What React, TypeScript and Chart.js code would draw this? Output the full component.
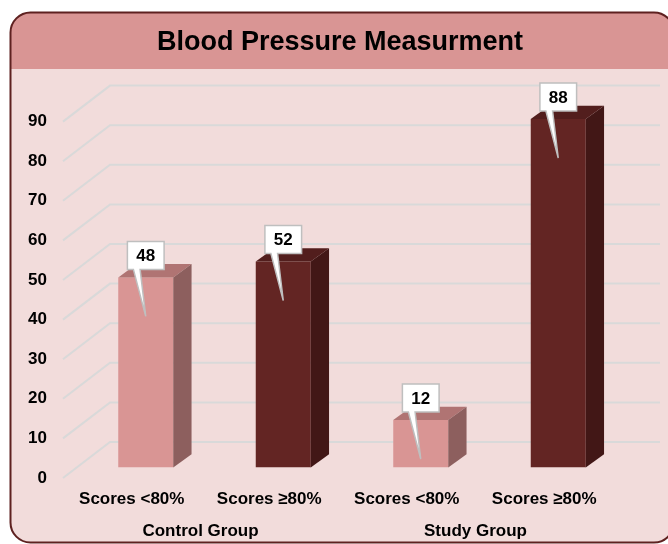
import React, { useEffect, useRef } from 'react';
import { Chart, registerables } from 'chart.js';

Chart.register(...registerables);

// ---- data ----
const chartTitle = 'Blood Pressure Measurment';
const categories = ['Scores <80%', 'Scores ≥80%', 'Scores <80%', 'Scores ≥80%'];
const groups = ['Control Group', 'Study Group'];
const values = [48, 52, 12, 88];
const yMin = 0;
const yMax = 90;
const yStep = 10;

// ---- styles ----
const FONT = '"Liberation Sans", Arial, Helvetica, sans-serif';
const frontColors = ['#d99594', '#632523', '#d99594', '#632523'];
const topColors = ['#b07473', '#521e1d', '#b07473', '#521e1d'];
const sideColors = ['#8d5f5e', '#421716', '#8d5f5e', '#421716'];
const DEPTH = { dx: 18.3, dy: -13.3 };
const FRONT = { dx: -14, dy: 10.5 };
const BACK = { dx: 33, dy: -25.5 };

function roundRectPath(ctx: CanvasRenderingContext2D, x: number, y: number, w: number, h: number, r: number) {
  ctx.beginPath();
  ctx.moveTo(x + r, y);
  ctx.lineTo(x + w - r, y);
  ctx.arcTo(x + w, y, x + w, y + r, r);
  ctx.lineTo(x + w, y + h - r);
  ctx.arcTo(x + w, y + h, x + w - r, y + h, r);
  ctx.lineTo(x + r, y + h);
  ctx.arcTo(x, y + h, x, y + h - r, r);
  ctx.lineTo(x, y + r);
  ctx.arcTo(x, y, x + r, y, r);
  ctx.closePath();
}

const framePlugin = {
  id: 'frame',
  beforeDraw(chart: any) {
    const ctx = chart.ctx as CanvasRenderingContext2D;
    const x0 = 10.5, y0 = 12.5, x1 = 674, y1 = 542.5, r = 20;
    ctx.save();
    roundRectPath(ctx, x0, y0, x1 - x0, y1 - y0, r);
    ctx.fillStyle = '#f2dcdb';
    ctx.fill();
    ctx.save();
    roundRectPath(ctx, x0, y0, x1 - x0, y1 - y0, r);
    ctx.clip();
    ctx.fillStyle = '#d99594';
    ctx.fillRect(x0, y0, x1 - x0, 69 - y0);
    ctx.restore();
    roundRectPath(ctx, x0, y0, x1 - x0, y1 - y0, r);
    ctx.strokeStyle = '#5e2120';
    ctx.lineWidth = 2;
    ctx.stroke();
    // title
    ctx.fillStyle = '#000000';
    ctx.font = `bold 27px ${FONT}`;
    ctx.textAlign = 'center';
    ctx.textBaseline = 'middle';
    ctx.fillText(chartTitle, 340, 43);
    ctx.restore();
  },
};

const wallPlugin = {
  id: 'wall',
  beforeDatasetsDraw(chart: any) {
    const ctx = chart.ctx as CanvasRenderingContext2D;
    const ys = chart.scales.y;
    const area = chart.chartArea;
    ctx.save();
    ctx.strokeStyle = '#d9d9d9';
    ctx.lineWidth = 2;
    ys.ticks.forEach((t: any) => {
      const py = ys.getPixelForValue(t.value);
      ctx.beginPath();
      ctx.moveTo(area.left + FRONT.dx, py + FRONT.dy);
      ctx.lineTo(area.left + BACK.dx, py + BACK.dy);
      ctx.lineTo(area.right + BACK.dx, py + BACK.dy);
      ctx.stroke();
    });
    ctx.restore();
  },
};

function poly(ctx: CanvasRenderingContext2D, pts: number[][]) {
  ctx.beginPath();
  ctx.moveTo(pts[0][0], pts[0][1]);
  for (let i = 1; i < pts.length; i++) ctx.lineTo(pts[i][0], pts[i][1]);
  ctx.closePath();
  ctx.fill();
}

const barPlugin = {
  id: 'bar3d',
  afterDatasetsDraw(chart: any) {
    const ctx = chart.ctx as CanvasRenderingContext2D;
    const meta = chart.getDatasetMeta(0);
    const { dx, dy } = DEPTH;
    ctx.save();
    meta.data.forEach((bar: any, i: number) => {
      const { x, y, width, base } = bar.getProps(['x', 'y', 'width', 'base'], true);
      const l = x - width / 2;
      const r = x + width / 2;
      ctx.fillStyle = topColors[i];
      poly(ctx, [[l, y], [l + dx, y + dy], [r + dx, y + dy], [r, y]]);
      ctx.fillStyle = sideColors[i];
      poly(ctx, [[r, y], [r + dx, y + dy], [r + dx, base + dy], [r, base]]);
    });
    // callouts
    meta.data.forEach((bar: any, i: number) => {
      const { x, y } = bar.getProps(['x', 'y'], true);
      const w = 36.7, h = 28;
      const bl = x - w / 2;
      const bb = y - 8;
      const bt = bb - h;
      ctx.beginPath();
      ctx.moveTo(bl, bt);
      ctx.lineTo(bl + w, bt);
      ctx.lineTo(bl + w, bb);
      ctx.lineTo(bl + 12.7, bb);
      ctx.lineTo(x, y + 39);
      ctx.lineTo(bl + 6, bb);
      ctx.lineTo(bl, bb);
      ctx.closePath();
      ctx.fillStyle = '#ffffff';
      ctx.fill();
      ctx.strokeStyle = '#bfbfbf';
      ctx.lineWidth = 1.5;
      ctx.stroke();
      ctx.fillStyle = '#000000';
      ctx.font = `bold 17px ${FONT}`;
      ctx.textAlign = 'center';
      ctx.textBaseline = 'middle';
      ctx.fillText(String(values[i]), x, bt + h / 2 + 1);
    });
    ctx.restore();
  },
};

export default function App() {
  const ref = useRef<HTMLCanvasElement | null>(null);
  useEffect(() => {
    if (!ref.current) return;
    const tickFont = { family: FONT, size: 17, weight: 'bold' as const };
    const chart = new Chart(ref.current, {
      type: 'bar',
      data: {
        labels: categories,
        datasets: [
          {
            data: values,
            backgroundColor: frontColors,
            borderWidth: 0,
            barPercentage: 0.4,
            categoryPercentage: 1,
            xAxisID: 'x',
            yAxisID: 'y',
          },
        ],
      },
      options: {
        responsive: false,
        animation: false,
        devicePixelRatio: 1,
        layout: { padding: { left: 0, right: 41, top: 111.1, bottom: 0 } },
        plugins: {
          legend: { display: false },
          tooltip: { enabled: false },
          title: { display: false },
        },
        scales: {
          x: {
            type: 'category',
            position: 'bottom',
            offset: true,
            weight: 0,
            grid: { display: false, drawTicks: false },
            border: { display: false },
            ticks: {
              color: '#000',
              font: tickFont,
              padding: 21.3,
              labelOffset: -14,
              maxRotation: 0,
              autoSkip: false,
            },
            afterFit: (s: any) => {
              s.height = 52;
            },
          },
          x2: {
            type: 'category',
            position: 'bottom',
            labels: groups,
            offset: true,
            weight: 1,
            grid: { display: false, drawTicks: false },
            border: { display: false },
            ticks: {
              color: '#000',
              font: tickFont,
              padding: 2,
              labelOffset: -14,
              maxRotation: 0,
              autoSkip: false,
            },
            afterFit: (s: any) => {
              s.height = 24.5;
            },
          },
          y: {
            type: 'linear',
            min: yMin,
            max: yMax,
            grid: { display: false, drawTicks: false },
            border: { display: false },
            ticks: {
              stepSize: yStep,
              color: '#000',
              font: tickFont,
              padding: 30,
              labelOffset: 10.5,
            },
            afterFit: (s: any) => {
              s.width = 77;
            },
          },
        },
      } as any,
      plugins: [framePlugin, wallPlugin, barPlugin],
    });
    return () => chart.destroy();
  }, []);
  return (
    <div style={{ position: 'fixed', left: 0, top: 0, width: 668, height: 544, background: '#ffffff' }}>
      <canvas ref={ref} width={668} height={544} style={{ display: 'block' }} />
    </div>
  );
}
